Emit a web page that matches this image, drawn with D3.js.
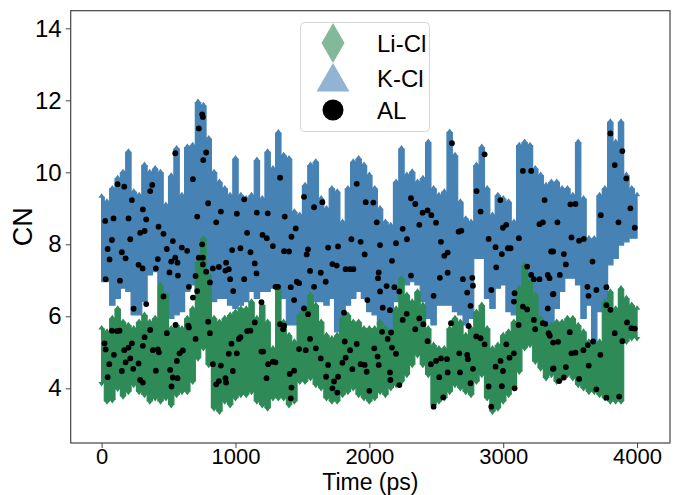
<!DOCTYPE html>
<html>
<head>
<meta charset="utf-8">
<script src="https://cdn.jsdelivr.net/npm/d3@7"></script>
<style>
  body { margin: 0; background: #fff; }
  svg { display: block; }
  text { font-family: "Liberation Sans", Arial, sans-serif; }
</style>
</head>
<body>
<div id="chart"></div>
<script>
// time grid (ps) on which the band envelopes were read
const timeGrid = [0,40,80,120,160,200,240,280,320,360,400,440,480,520,560,600,640,680,720,760,
  800,840,880,920,960,1000,1040,1080,1120,1160,1200,1240,1280,1320,1360,1400,1440,1480,1520,1560,
  1600,1640,1680,1720,1760,1800,1840,1880,1920,1960,2000,2040,2080,2120,2160,2200,2240,2280,2320,2360,
  2400,2440,2480,2520,2560,2600,2640,2680,2720,2760,2800,2840,2880,2920,2960,3000,3040,3080,3120,3160,
  3200,3240,3280,3320,3360,3400,3440,3480,3520,3560,3600,3640,3680,3720,3760,3800,3840,3880,3920,3960,4000];

// K-Cl band (upper / lower extent)
const kclHigh = [9.42,9.28,9.65,9.93,10.1,10.67,9.56,9.46,10.3,10.1,10.2,10.1,9.19,10.0,10.76,9.46,
  10.8,10.85,12.05,11.96,11.04,10.1,9.83,9.65,9.46,10.48,9.46,9.37,9.46,10.44,9.37,10.67,10.2,
  11.2,10.57,10.48,9.0,8.91,9.74,10.3,10.39,9.37,9.09,9.65,9.56,8.72,9.65,10.39,10.48,10.3,
  10.02,9.65,9.09,8.72,8.63,9.83,10.76,10.02,10.11,9.83,9.93,10.94,9.65,9.46,9.56,11.22,10.57,9.28,
  8.81,8.72,10.3,10.8,9.65,8.91,9.46,9.37,9.28,8.72,10.85,10.94,10.85,10.2,10.02,9.74,9.83,
  9.83,9.65,9.65,9.46,10.94,9.37,8.26,8.26,9.46,9.65,11.5,10.94,11.5,10.02,9.65,9.46];
const kclLow = [6.96,6.96,6.31,6.5,6.78,6.69,6.04,6.04,6.41,7.15,7.24,6.87,5.94,5.94,6.04,6.13,
  6.69,6.87,6.69,6.69,5.94,6.41,6.5,6.5,6.31,6.22,6.31,6.41,6.69,6.5,6.69,6.69,6.78,
  6.87,6.5,5.76,5.76,6.04,6.13,6.31,6.41,6.41,6.31,6.5,5.57,5.39,6.31,6.5,6.69,6.5,
  6.13,6.04,5.76,5.3,5.39,6.41,6.87,6.87,6.96,6.87,6.41,5.94,5.76,6.31,6.31,6.31,6.13,6.04,
  5.76,5.94,7.61,7.61,6.5,6.22,6.78,6.87,6.13,6.04,5.76,5.57,5.57,5.48,5.39,5.39,5.57,
  6.22,6.69,7.06,7.06,6.87,5.94,6.31,5.2,6.13,6.13,7.43,7.61,7.98,8.07,8.17,8.17];

// Li-Cl band (upper / lower extent)
const liclHigh = [5.76,5.67,6.04,6.31,5.94,5.85,5.76,5.94,6.13,5.94,6.04,6.96,6.69,5.76,5.85,5.76,
  6.04,6.31,7.6,8.26,7.24,6.04,5.94,6.04,6.13,6.22,6.31,6.31,6.5,6.04,6.41,5.94,5.2,
  6.87,5.94,5.57,5.39,6.13,6.31,6.69,6.41,5.94,5.57,5.48,5.57,6.04,6.13,5.94,5.94,5.76,
  5.76,5.76,5.94,5.76,5.57,6.31,7.15,6.69,6.5,6.78,6.41,5.76,5.3,5.2,5.2,5.76,6.04,5.94,
  5.57,5.76,6.22,6.41,5.76,5.2,5.3,5.57,5.67,5.94,6.87,7.52,7.06,6.69,6.04,5.85,5.85,
  5.94,5.94,6.04,6.04,5.85,5.67,5.39,5.3,5.39,6.5,6.78,6.31,6.87,6.6,6.41,6.31];
const liclLow = [4.05,3.54,3.58,3.9,3.68,3.81,4.0,3.81,3.72,3.54,3.63,3.54,3.63,3.44,3.72,3.81,
  3.81,4.09,4.74,5.02,4.56,3.35,3.26,3.54,3.44,3.63,3.72,3.72,3.81,3.54,3.44,3.35,3.63,
  3.63,3.63,3.44,3.54,4.09,4.09,4.19,4.0,3.91,3.63,3.54,3.54,3.72,3.81,3.91,3.72,3.63,
  3.54,3.63,3.81,3.72,3.91,4.0,4.09,4.28,4.56,4.83,4.56,4.28,3.44,3.54,3.63,3.81,4.0,3.91,
  3.81,3.72,4.09,4.28,3.63,3.26,3.35,3.54,3.72,3.91,4.37,5.02,5.11,4.65,4.46,4.19,4.28,
  4.09,4.19,4.28,4.19,4.0,3.91,3.81,3.81,3.72,3.63,3.54,3.54,3.54,5.2,5.3,5.3];

// AL points
const alTime = [550,119,169,378,363,226,308,27,89,201,333,288,321,425,462,77,214,532,45,487,599,151,179,59,420,550,567,520,276,306,405,507,30,137,570,462,333,239,
  552,77,114,134,363,487,321,22,226,30,201,169,308,383,420,428,607,582,92,57,214,179,276,562,236,151,405,512,45,288,308,532,567,522,
  751,756,726,781,759,682,796,1065,714,891,856,1010,1159,1241,1087,1202,1234,1279,639,975,1037,1112,726,756,756,876,831,930,950,925,781,1144,1157,960,1065,809,702,652,1299,983,714,682,1194,
  751,647,652,796,809,1144,1112,1087,702,1037,1025,970,1010,950,1194,1207,831,891,1279,1299,1244,980,925,876,856,930,1232,
  1333,1512,1587,1649,1368,1450,1418,1363,1400,1532,1542,1692,1766,1906,1973,1866,1935,1965,1724,1756,1823,1856,1881,1557,1637,1458,1475,1413,1587,1674,1438,1985,1811,1318,
  1333,1363,1356,1512,1542,1557,1475,1525,1600,1637,1405,1438,1418,1413,1692,1677,1736,1766,1724,1761,1799,1823,1856,1906,1816,1935,1965,1980,1873,
  2617,2030,2311,2343,2398,2435,2463,2373,2055,2498,2249,2667,2199,2281,2080,2535,2585,2560,2169,2070,2065,2527,2585,2311,2129,2187,2224,2080,2480,2100,2154,
  2279,2249,2373,2343,2403,2037,2062,2070,2000,2095,2162,2137,2169,2199,2154,2157,2224,2435,2460,2498,2535,2580,2522,2585,2480,2552,2610,2672,2677,
  2861,3147,3209,2801,2831,2978,3309,2998,3023,3271,3296,2891,3117,2943,3035,3055,2990,3358,2687,2948,3179,3209,3229,3271,3333,3346,2699,2769,2774,2731,2911,3085,3080,2756,3147,3179,3371,2741,3333,
  2799,2831,2861,2731,2736,2774,2756,3023,3080,2980,3047,2943,2998,2891,2990,3085,2911,3115,3229,3239,3296,3314,3339,3348,3371,
  3801,3890,3833,3920,3502,3540,3729,3950,3405,3861,3983,3510,3567,3602,3373,3453,3468,3423,3667,3629,3637,3696,3771,3771,3375,3801,
  3497,3410,3373,3599,3632,3672,3510,3540,3726,3639,3468,3376,3418,3453,3567,3696,3771,3866,3833,3890,3925,3958,3983];
const alCN = [10.53,9.67,9.6,9.65,9.48,9.23,8.97,8.65,8.72,8.72,8.69,8.32,8.37,8.49,8.29,8.12,8.14,8.09,7.87,7.87,7.91,7.78,7.61,7.58,7.59,7.63,7.49,7.52,7.43,7.33,7.33,7.22,7.03,6.99,7.13,6.55,6.34,6.21,
  5.76,5.6,5.59,5.6,5.62,5.53,5.42,5.25,5.25,5.08,5.13,5.06,5.18,5.06,5.08,5.0,5.05,4.97,4.93,4.67,4.83,4.72,4.69,4.76,4.54,4.48,4.49,4.51,4.31,4.23,4.16,4.3,4.28,4.05,
  11.61,11.54,11.22,10.55,10.34,9.81,9.14,9.25,8.77,8.91,8.61,8.85,8.88,8.86,8.32,8.26,8.17,7.95,7.82,7.84,7.89,7.78,7.63,7.63,7.44,7.37,7.33,7.49,7.31,7.27,7.24,7.47,7.19,7.03,7.03,6.94,7.12,6.82,6.82,6.7,6.7,6.52,6.39,
  8.0,5.74,5.69,5.85,5.53,5.83,5.6,5.59,5.37,5.42,5.37,5.24,4.97,4.96,5.02,5.02,4.67,4.63,4.74,4.72,4.67,4.48,4.28,4.2,4.11,4.16,4.28,
  9.85,9.32,9.03,9.17,8.77,8.44,8.21,7.81,7.8,7.72,7.86,7.91,7.94,9.68,9.17,8.14,8.07,7.72,7.45,7.41,7.31,7.31,7.31,7.26,7.21,6.96,6.92,6.81,6.82,6.96,6.45,6.45,6.1,6.82,
  5.78,5.74,5.64,6.22,6.06,5.37,5.09,5.06,5.11,4.83,4.4,4.49,4.02,3.72,4.65,4.32,4.19,4.32,4.0,3.88,4.71,4.85,5.06,5.23,5.3,4.67,4.65,4.46,4.53,
  10.81,9.16,9.28,9.12,8.88,8.94,8.81,8.54,8.61,8.6,8.43,8.35,8.03,8.14,7.98,8.07,7.77,7.68,7.54,7.22,7.06,7.07,7.21,7.13,6.84,6.81,6.69,6.69,6.57,6.24,6.17,
  6.07,5.9,5.94,5.64,5.78,5.11,4.88,4.65,3.93,5.57,5.55,5.37,5.13,4.96,4.44,4.23,4.09,5.31,4.67,4.76,4.83,4.81,4.31,4.44,3.49,3.75,5.81,4.97,4.44,
  10.5,10.04,10.04,9.48,8.91,9.23,9.23,8.46,8.54,8.56,8.61,8.15,8.17,7.92,7.89,7.89,7.73,7.8,8.38,7.36,7.38,7.15,7.03,7.03,7.15,7.06,7.03,7.07,6.85,6.66,6.73,6.64,6.41,6.29,6.27,6.19,6.61,5.73,6.22,
  5.44,5.39,5.22,4.93,4.81,4.54,4.14,5.22,4.97,4.76,4.85,4.6,4.48,4.05,4.06,4.0,3.49,5.76,5.9,5.64,5.81,5.79,5.53,5.46,4.54,
  11.08,10.59,10.2,9.83,9.11,9.12,8.81,9.0,8.61,8.61,8.46,8.19,8.1,8.15,7.8,7.73,7.44,7.15,7.52,6.82,6.57,6.73,6.81,6.31,6.62,6.18,
  5.56,5.29,5.27,5.06,5.2,5.3,4.97,4.99,4.93,4.63,4.59,4.55,4.2,4.3,4.26,3.97,3.74,3.77,5.53,5.31,5.83,5.67,5.66];

const xTicks = [0, 1000, 2000, 3000, 4000];
const yTicks = [4, 6, 8, 10, 12, 14];
const legendLabels = ["Li-Cl", "K-Cl", "AL"];

const W = 678, H = 495;
const plot = { left: 70.7, right: 670, top: 10.7, bottom: 443 };

const svg = d3.select("#chart").append("svg")
    .attr("width", W)
    .attr("height", H);

const x = d3.scaleLinear().domain([-231, 4246]).range([plot.left, plot.right]);
const y = d3.scaleLinear().domain([2.48, 14.49]).range([plot.bottom, plot.top]);

const blue = "#4682b4", green = "#2e8b57";
const tip = 4;                                   // height of the pointed marker tips (px)
const halfStep = (x(timeGrid[1]) - x(timeGrid[0])) / 2;

const kclBand = timeGrid.map((t, i) => ({ t, lo: kclLow[i], hi: kclHigh[i] }));
const liclBand = timeGrid.map((t, i) => ({ t, lo: liclLow[i], hi: liclHigh[i] }));

// blue: triangles -> pointed tops only
const kclArea = d3.area()
    .x(d => x(d.t))
    .y0(d => y(d.lo))
    .y1(d => y(d.hi) + tip)
    .curve(d3.curveStep);
// green: diamonds -> pointed tops and bottoms
const liclArea = d3.area()
    .x(d => x(d.t))
    .y0(d => y(d.lo) - tip)
    .y1(d => y(d.hi) + tip)
    .curve(d3.curveStep);

function tipPath(cx, yBase, yApex) {
    return `M${cx - halfStep - 0.6},${yBase}L${cx},${yApex}L${cx + halfStep + 0.6},${yBase}Z`;
}

const gK = svg.append("g").attr("fill", blue);
gK.append("path").datum(kclBand)
    .attr("d", kclArea)
    .attr("stroke", blue).attr("stroke-width", 1.2).attr("stroke-linejoin", "round");
gK.selectAll("path.tip").data(kclBand).join("path")
    .attr("class", "tip")
    .attr("d", d => tipPath(x(d.t), y(d.hi) + tip + 0.5, y(d.hi)));

const gL = svg.append("g").attr("fill", green);
gL.append("path").datum(liclBand)
    .attr("d", liclArea)
    .attr("stroke", green).attr("stroke-width", 1.2).attr("stroke-linejoin", "round");
gL.selectAll("path.tip").data(liclBand).join("path")
    .attr("class", "tip")
    .attr("d", d => tipPath(x(d.t), y(d.hi) + tip + 0.5, y(d.hi)) +
                    tipPath(x(d.t), y(d.lo) - tip - 0.5, y(d.lo)));

// AL points
svg.append("g").selectAll("circle")
    .data(alTime.map((t, i) => ({ t, v: alCN[i] })))
    .join("circle")
    .attr("cx", d => x(d.t))
    .attr("cy", d => y(d.v))
    .attr("r", 2.9)
    .attr("fill", "#000");

// axes
const xAxis = svg.append("g")
    .attr("transform", `translate(0,${plot.bottom})`)
    .call(d3.axisBottom(x).tickValues(xTicks).tickSize(5).tickPadding(0).tickFormat(d3.format("d")));
const yAxis = svg.append("g")
    .attr("transform", `translate(${plot.left},0)`)
    .call(d3.axisLeft(y).tickValues(yTicks).tickSize(5).tickPadding(4).tickFormat(d3.format("d")));

[xAxis, yAxis].forEach(g => {
    g.select(".domain").remove();
    g.selectAll(".tick line").attr("stroke", "#444").attr("stroke-width", 1);
    g.selectAll("text")
        .attr("fill", "#000")
        .style("font-size", "22px")
        .style("font-family", "'Liberation Sans', Arial, sans-serif");
});
yAxis.selectAll("text").style("font-size", "24px");

// frame
svg.append("rect")
    .attr("x", plot.left)
    .attr("y", plot.top)
    .attr("width", plot.right - plot.left)
    .attr("height", plot.bottom - plot.top)
    .attr("fill", "none")
    .attr("stroke", "#444")
    .attr("stroke-width", 1.2);

// axis titles
svg.append("text")
    .attr("x", (plot.left + plot.right) / 2)
    .attr("y", 490)
    .attr("text-anchor", "middle")
    .style("font-size", "23px")
    .text("Time (ps)");

svg.append("text")
    .attr("transform", `translate(32,${(plot.top + plot.bottom) / 2}) rotate(-90)`)
    .attr("text-anchor", "middle")
    .style("font-size", "27px")
    .text("CN");

// legend
const legend = svg.append("g");
legend.append("rect")
    .attr("x", 300.5).attr("y", 22.5)
    .attr("width", 129).attr("height", 109)
    .attr("rx", 4)
    .attr("fill", "#fff").attr("fill-opacity", 0.8)
    .attr("stroke", "#d6d6d6");

const legendY = [43, 78, 110];
legend.append("path")
    .attr("transform", `translate(333,${legendY[0]})`)
    .attr("d", d3.symbol().type(d3.symbolDiamond).size(460)())
    .attr("fill", green).attr("fill-opacity", 0.6);
legend.append("path")
    .attr("transform", `translate(333,${legendY[1] + 4})`)
    .attr("d", d3.symbol().type(d3.symbolTriangle).size(470)())
    .attr("fill", blue).attr("fill-opacity", 0.6);
legend.append("circle")
    .attr("cx", 333).attr("cy", legendY[2])
    .attr("r", 10.5)
    .attr("fill", "#000");

legend.selectAll("text.lbl")
    .data(legendLabels)
    .join("text")
    .attr("class", "lbl")
    .attr("x", 377)
    .attr("y", (d, i) => legendY[i] + 8.5)
    .style("font-size", "24px")
    .text(d => d);
</script>
</body>
</html>
